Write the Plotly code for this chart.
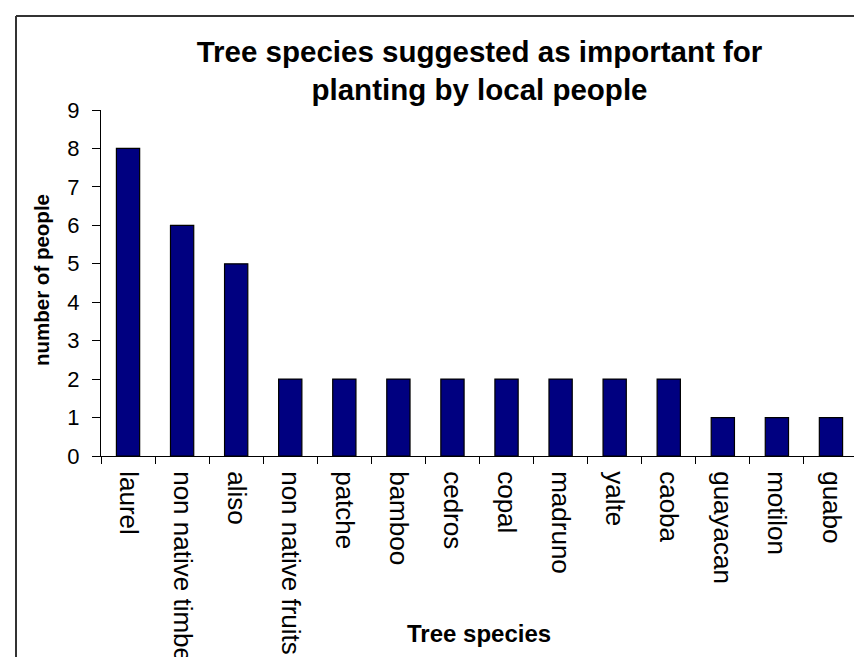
import plotly.graph_objects as go

species = ["laurel", "non native timber", "aliso", "non native fruits", "patche",
           "bamboo", "cedros", "copal", "madruno", "yalte", "caoba",
           "guayacan", "motilon", "guabo"]
people = [8, 6, 5, 2, 2, 2, 2, 2, 2, 2, 2, 1, 1, 1]
y_ticks = list(range(0, 10))

W, H = 862, 657
L, R, T, B = 93, 12, 102, 209

FONT = "Liberation Sans, Arial, sans-serif"

fig = go.Figure(go.Bar(
    x=species, y=people,
    marker=dict(color="#000080", line=dict(color="#000000", width=1.2)),
    width=0.43,
))

def px_x(p):
    return (p - L) / (W - L - R)

def px_y(p):
    return (H - B - p) / (H - T - B)

fig.update_layout(
    width=W, height=H,
    margin=dict(l=L, r=R, t=T, b=B, autoexpand=False),
    paper_bgcolor="white", plot_bgcolor="white",
    showlegend=False,
    font=dict(family=FONT, color="black"),
    title=dict(
        text="<b>Tree species suggested as important for<br>planting by local people</b>",
        x=0.5, xref="paper", xanchor="center",
        y=1 - 54 / H, yref="container", yanchor="middle",
        font=dict(size=29.5, family=FONT, color="black"),
    ),
    xaxis=dict(
        type="category",
        tickangle=90,
        tickfont=dict(size=26, family=FONT, color="black"),
        ticklabelstandoff=9,
        showline=True, linecolor="black", linewidth=1,
        ticks="outside", tickson="boundaries", ticklen=7, tickcolor="black", tickwidth=1,
        showgrid=False, zeroline=False,
        automargin=False,
    ),
    yaxis=dict(
        range=[0, 9],
        tickvals=y_ticks,
        tickfont=dict(size=22, family=FONT, color="black"),
        ticklabelstandoff=8,
        showline=True, linecolor="black", linewidth=1,
        ticks="outside", ticklen=8, tickcolor="black", tickwidth=1,
        showgrid=False, zeroline=False,
        automargin=False,
    ),
    annotations=[
        dict(text="<b>Tree species</b>", xref="paper", yref="paper",
             x=px_x(471), y=px_y(625), xanchor="center", yanchor="middle",
             showarrow=False, font=dict(size=24, family=FONT, color="black")),
        dict(text="<b>number of people</b>", xref="paper", yref="paper",
             x=px_x(33), y=px_y(272), xanchor="center", yanchor="middle",
             textangle=-90,
             showarrow=False, font=dict(size=20.5, family=FONT, color="black")),
    ],
    shapes=[
        dict(type="line", xref="paper", yref="paper",
             x0=px_x(8), x1=px_x(W + 5), y0=px_y(8), y1=px_y(8),
             line=dict(color="#333333", width=2)),
        dict(type="line", xref="paper", yref="paper",
             x0=px_x(8), x1=px_x(8), y0=px_y(8), y1=px_y(H + 5),
             line=dict(color="#333333", width=2)),
    ],
)

fig.write_html("out.html")
